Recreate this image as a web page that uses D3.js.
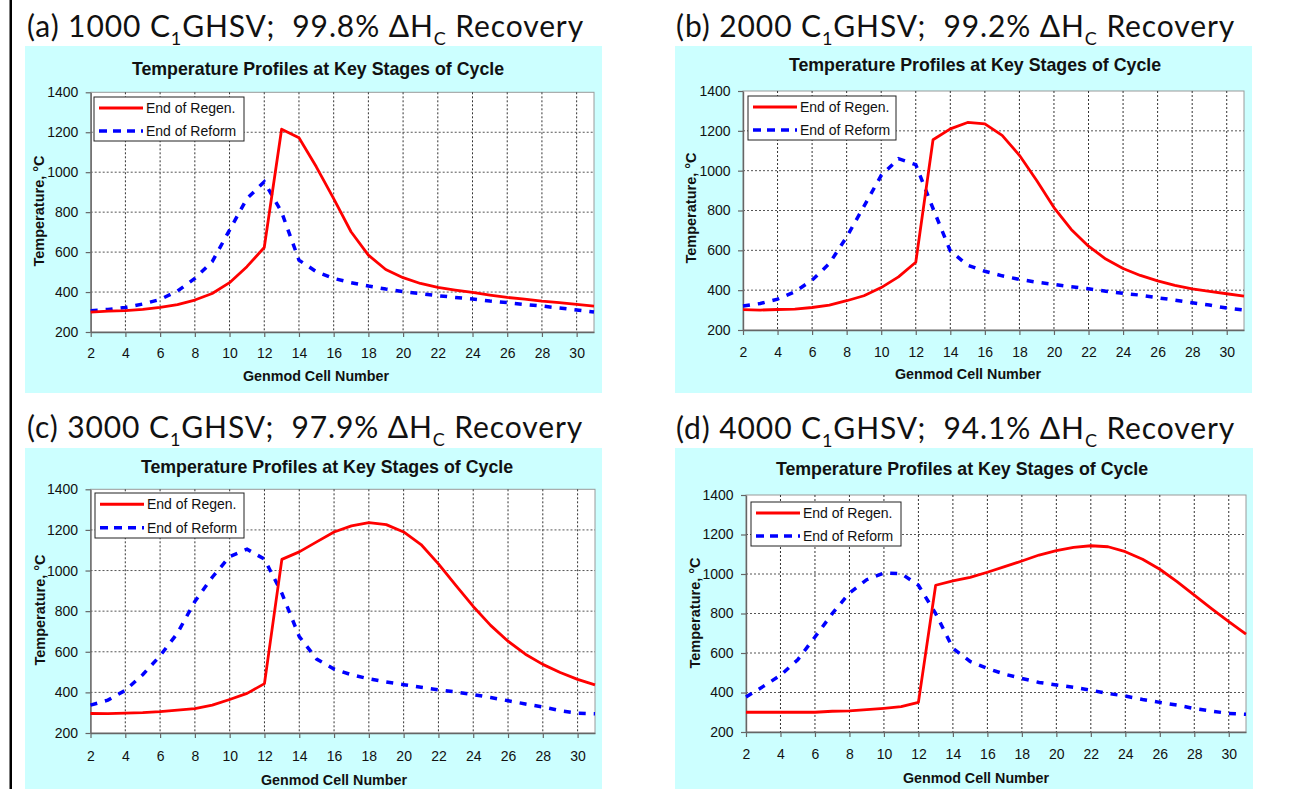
<!DOCTYPE html>
<html>
<head>
<meta charset="utf-8">
<script src="https://cdn.jsdelivr.net/npm/d3@7/dist/d3.min.js"></script>
<style>
  body { margin: 0; background: #fff; }
  svg { display: block; }
</style>
</head>
<body>
<div class="chart"></div>
<script>
// Data
var cells = [2, 3, 4, 5, 6, 7, 8, 9, 10, 11, 12, 13, 14, 15, 16, 17, 18, 19, 20, 21, 22, 23, 24, 25, 26, 27, 28, 29, 30, 31];

var regenA  = [300, 305, 307, 313, 323, 337, 360, 393, 447, 527, 623, 1215, 1172, 1027, 868, 702, 585, 513, 472, 443, 423, 410, 398, 385, 373, 365, 355, 347, 338, 330];
var reformA = [307, 313, 323, 340, 363, 405, 468, 552, 710, 868, 952, 800, 560, 502, 468, 447, 430, 415, 402, 392, 382, 373, 365, 355, 347, 338, 330, 320, 310, 300];

var regenB  = [302, 300, 303, 305, 313, 325, 347, 372, 413, 467, 540, 1155, 1210, 1242, 1235, 1177, 1077, 951, 815, 705, 621, 556, 509, 474, 447, 424, 407, 394, 382, 370];
var reformB = [320, 333, 355, 392, 450, 534, 667, 821, 976, 1060, 1030, 810, 597, 525, 495, 472, 454, 440, 429, 417, 407, 395, 384, 375, 362, 350, 337, 325, 310, 300];

var regenC  = [296, 295, 298, 300, 305, 313, 320, 337, 365, 395, 443, 1055, 1092, 1141, 1190, 1220, 1236, 1226, 1190, 1128, 1033, 927, 823, 730, 652, 588, 538, 498, 464, 437];
var reformC = [337, 362, 410, 487, 580, 692, 848, 967, 1069, 1105, 1056, 888, 675, 564, 515, 487, 467, 451, 438, 425, 413, 402, 389, 375, 359, 343, 328, 310, 298, 295];

var regenD  = [300, 300, 300, 300, 300, 305, 307, 313, 320, 328, 350, 943, 965, 983, 1009, 1037, 1066, 1096, 1118, 1135, 1143, 1138, 1113, 1075, 1024, 961, 893, 825, 759, 695];
var reformD = [377, 431, 487, 566, 681, 799, 904, 971, 1005, 1002, 943, 800, 624, 557, 522, 493, 471, 451, 438, 426, 412, 395, 382, 365, 350, 336, 319, 306, 294, 290];

var xTicks = [2, 4, 6, 8, 10, 12, 14, 16, 18, 20, 22, 24, 26, 28, 30];
var yTicks = [200, 400, 600, 800, 1000, 1200, 1400];

var panelLetters = ["a", "b", "c", "d"];
var ghsv = ["1000", "2000", "3000", "4000"];
var recovery = ["99.8%", "99.2%", "97.9%", "94.1%"];
var seriesNames = ["End of Regen.", "End of Reform"];

var chartTitle = "Temperature Profiles at Key Stages of Cycle";
var xTitle = "Genmod Cell Number";
var yTitle = "Temperature, \u00B0C";

var regenSets = [regenA, regenB, regenC, regenD];
var reformSets = [reformA, reformB, reformC, reformD];

// Layout of each panel (pixels)
var layout = [
  { box: [25, 46, 602, 393], plot: [90.7, 92.3, 594, 332], head: [27, 37], titleX: 318, titleY: 69,
    xTitleX: 316, xLabY: 353, xTitleY: 376, yTitlePos: [39, 211], legend: [94, 97, 150, 44] },
  { box: [675, 46, 1252, 393], plot: [743, 91, 1244, 330], head: [676, 37], titleX: 975, titleY: 65,
    xTitleX: 968, xLabY: 352, xTitleY: 374, yTitlePos: [691, 208], legend: [748, 96, 148, 44] },
  { box: [25, 448, 602, 789], plot: [90.5, 489.3, 595, 733], head: [27, 438], titleX: 327, titleY: 467,
    xTitleX: 334, xLabY: 756, xTitleY: 780, yTitlePos: [40, 610], legend: [95, 493, 149, 45] },
  { box: [675, 448, 1253, 789], plot: [746, 495, 1246, 732], head: [676, 439], titleX: 962, titleY: 469,
    xTitleX: 976, xLabY: 754, xTitleY: 778, yTitlePos: [695, 613], legend: [751, 502, 150, 44] }
];

var svgWidth = 1296;
var svgHeight = 789;

var svg = d3.select(".chart")
  .append("svg")
  .attr("width", svgWidth)
  .attr("height", svgHeight);

// black rule down the left side
svg.append("rect")
  .attr("x", 9.5)
  .attr("y", 0)
  .attr("width", 2.5)
  .attr("height", svgHeight)
  .attr("fill", "#000");

var sansFont = "'Liberation Sans', Arial, sans-serif";

layout.forEach(function(L, i) {
  var g = svg.append("g");

  // Heading with subscripts
  var head = g.append("text")
    .attr("x", L.head[0])
    .attr("y", L.head[1])
    .style("font-family", "Lato, 'Open Sans', sans-serif")
    .style("font-size", "30px")
    .style("letter-spacing", "0.9px")
    .style("white-space", "pre")
    .attr("fill", "#111");
  head.append("tspan").text("(" + panelLetters[i] + ") " + ghsv[i] + " C");
  head.append("tspan").attr("dy", 8).style("font-size", "18px").text("1");
  head.append("tspan").attr("dy", -8).text("GHSV;  " + recovery[i] + " \u0394H");
  head.append("tspan").attr("dy", 8).style("font-size", "18px").text("C");
  head.append("tspan").attr("dy", -8).text(" Recovery");

  // chart area
  g.append("rect")
    .attr("x", L.box[0])
    .attr("y", L.box[1])
    .attr("width", L.box[2] - L.box[0])
    .attr("height", L.box[3] - L.box[1])
    .attr("fill", "#ccffff");

  var x = d3.scaleLinear().domain([2, 31]).range([L.plot[0], L.plot[2]]);
  var y = d3.scaleLinear().domain([200, 1400]).range([L.plot[3], L.plot[1]]);

  // plot area
  g.append("rect")
    .attr("x", L.plot[0])
    .attr("y", L.plot[1])
    .attr("width", L.plot[2] - L.plot[0])
    .attr("height", L.plot[3] - L.plot[1])
    .attr("fill", "#fff")
    .attr("stroke", "#9a9a9a")
    .attr("stroke-width", 1);

  // gridlines
  g.append("g")
    .selectAll("line")
    .data(xTicks.filter(function(d) { return d > 2; }))
    .enter()
    .append("line")
    .attr("x1", function(d) { return x(d); })
    .attr("x2", function(d) { return x(d); })
    .attr("y1", L.plot[1])
    .attr("y2", L.plot[3])
    .attr("stroke", "#333")
    .attr("stroke-width", 1)
    .attr("stroke-dasharray", "2,2");

  g.append("g")
    .selectAll("line")
    .data(yTicks.filter(function(d) { return d > 200 && d < 1400; }))
    .enter()
    .append("line")
    .attr("x1", L.plot[0])
    .attr("x2", L.plot[2])
    .attr("y1", function(d) { return y(d); })
    .attr("y2", function(d) { return y(d); })
    .attr("stroke", "#555")
    .attr("stroke-width", 1)
    .attr("stroke-dasharray", "2,2");

  // Axes
  var bottomAxis = d3.axisBottom(x).tickValues(xTicks).tickFormat(d3.format("d"))
    .tickSize(5).tickSizeOuter(0).tickPadding(11);
  var leftAxis = d3.axisLeft(y).tickValues(yTicks).tickFormat(d3.format("d"))
    .tickSize(5).tickSizeOuter(0).tickPadding(7.4);

  var xg = g.append("g")
    .attr("transform", "translate(0," + L.plot[3] + ")")
    .call(bottomAxis);
  xg.selectAll("text").attr("y", L.xLabY - L.plot[3]).attr("dy", "0.35em");

  var yg = g.append("g")
    .attr("transform", "translate(" + L.plot[0] + ",0)")
    .call(leftAxis);

  [xg, yg].forEach(function(ax) {
    ax.select(".domain").attr("stroke", "#666").attr("stroke-width", 1.4);
    ax.selectAll(".tick line").attr("stroke", "#666").attr("stroke-width", 1.2);
    ax.selectAll("text")
      .style("font-family", sansFont)
      .style("font-size", "14px")
      .attr("fill", "#111");
  });

  // Series
  var line = d3.line()
    .x(function(d, j) { return x(cells[j]); })
    .y(function(d) { return y(d); });

  g.append("path")
    .datum(reformSets[i])
    .attr("d", line)
    .attr("fill", "none")
    .attr("stroke", "#0000ff")
    .attr("stroke-width", 3.5)
    .attr("stroke-dasharray", "7,8");

  g.append("path")
    .datum(regenSets[i])
    .attr("d", line)
    .attr("fill", "none")
    .attr("stroke", "#ff0000")
    .attr("stroke-width", 2.8)
    .attr("stroke-linejoin", "round");

  // Titles
  g.append("text")
    .attr("x", L.titleX)
    .attr("y", L.titleY)
    .attr("dy", "0.35em")
    .attr("text-anchor", "middle")
    .style("font-family", sansFont)
    .style("font-weight", "bold")
    .style("font-size", "17.8px")
    .attr("fill", "#111")
    .text(chartTitle);

  g.append("text")
    .attr("x", L.xTitleX)
    .attr("y", L.xTitleY)
    .attr("dy", "0.35em")
    .attr("text-anchor", "middle")
    .style("font-family", sansFont)
    .style("font-weight", "bold")
    .style("font-size", "14.3px")
    .attr("fill", "#111")
    .text(xTitle);

  g.append("text")
    .attr("transform", "translate(" + L.yTitlePos[0] + "," + L.yTitlePos[1] + ") rotate(-90)")
    .attr("dy", "0.35em")
    .attr("text-anchor", "middle")
    .style("font-family", sansFont)
    .style("font-weight", "bold")
    .style("font-size", "14.5px")
    .attr("fill", "#111")
    .text(yTitle);

  // Legend
  var lg = g.append("g").attr("transform", "translate(" + L.legend[0] + "," + L.legend[1] + ")");
  lg.append("rect")
    .attr("width", L.legend[2])
    .attr("height", L.legend[3])
    .attr("fill", "#fff")
    .attr("stroke", "#222")
    .attr("stroke-width", 1);

  var rows = [
    { name: seriesNames[0], color: "#ff0000", dash: null, w: 2.8, y: L.legend[3] * 0.25 },
    { name: seriesNames[1], color: "#0000ff", dash: "8,6", w: 3.5, y: L.legend[3] * 0.77 }
  ];
  rows.forEach(function(r) {
    lg.append("line")
      .attr("x1", 5)
      .attr("x2", 49)
      .attr("y1", r.y)
      .attr("y2", r.y)
      .attr("stroke", r.color)
      .attr("stroke-width", r.w)
      .attr("stroke-dasharray", r.dash);
    lg.append("text")
      .attr("x", 52)
      .attr("y", r.y)
      .attr("dy", "0.35em")
      .style("font-family", sansFont)
      .style("font-size", "14px")
      .attr("fill", "#111")
      .text(r.name);
  });
});
</script>
</body>
</html>
